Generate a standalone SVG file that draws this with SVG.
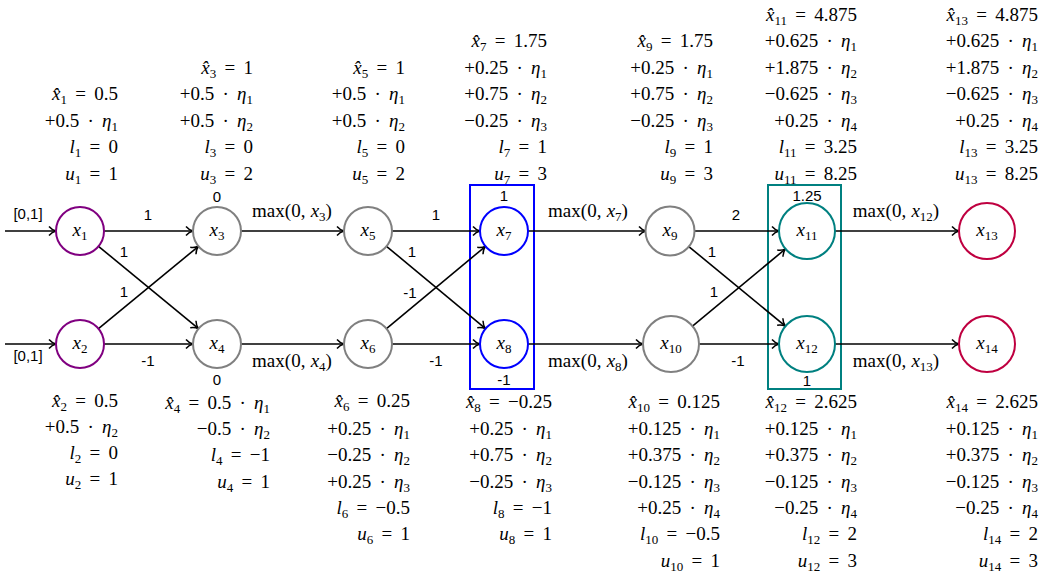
<svg xmlns="http://www.w3.org/2000/svg" width="1043" height="578" viewBox="0 0 1043 578">
<style>
.m{font-family:"Liberation Serif","DejaVu Serif",serif;font-size:19px;fill:#000;word-spacing:3.5px}
.mx{word-spacing:0.5px}
.i{font-style:italic}
.s{font-size:13px}
.e{text-anchor:end}
.c{text-anchor:middle}
.l{font-family:"Liberation Sans",Arial,sans-serif;font-size:15px;fill:#000;text-anchor:middle}
.n{fill:#fff;stroke-width:2}
.g{stroke:#808080}
.v{stroke:#800080}
.b{stroke:#0000ff}
.t{stroke:#008080}
.r{stroke:#bf0040}
.ed{stroke:#000;stroke-width:1.6;fill:none;marker-end:url(#ar)}
</style>
<defs>
<marker id="ar" markerUnits="userSpaceOnUse" viewBox="0 0 12 12" refX="10" refY="6" markerWidth="12" markerHeight="12" orient="auto">
<path d="M3,1.5 Q6,5 10,6 Q6,7 3,10.5" fill="none" stroke="#000" stroke-width="1.5"/>
</marker>
</defs>
<rect x="470" y="185" width="64" height="204" fill="none" stroke="#0000ff" stroke-width="2"/>
<rect x="768" y="185" width="73" height="204" fill="none" stroke="#008080" stroke-width="2"/>
<g id="connectors">
<line class="ed" x1="5" y1="231" x2="56" y2="231"/>
<line class="ed" x1="5" y1="344" x2="56" y2="344"/>
<line class="ed" x1="104" y1="231" x2="193" y2="231"/>
<line class="ed" x1="104" y1="344" x2="193" y2="344"/>
<line class="ed" x1="98.5" y1="246.3" x2="198.5" y2="328.7"/>
<line class="ed" x1="98.5" y1="328.7" x2="198.5" y2="246.3"/>
<line class="ed" x1="241" y1="231" x2="344" y2="231"/>
<line class="ed" x1="241" y1="344" x2="344" y2="344"/>
<line class="ed" x1="392" y1="231" x2="480" y2="231"/>
<line class="ed" x1="392" y1="344" x2="480" y2="344"/>
<line class="ed" x1="386.5" y1="246.3" x2="485.5" y2="328.7"/>
<line class="ed" x1="386.5" y1="328.7" x2="485.5" y2="246.3"/>
<line class="ed" x1="528" y1="231" x2="646" y2="231"/>
<line class="ed" x1="528" y1="344" x2="643" y2="344"/>
<line class="ed" x1="694.5" y1="231" x2="779" y2="231"/>
<line class="ed" x1="699" y1="344" x2="779" y2="344"/>
<line class="ed" x1="688.5" y1="246.3" x2="785.4" y2="326.2"/>
<line class="ed" x1="692.5" y1="326.1" x2="785.5" y2="248.9"/>
<line class="ed" x1="835" y1="231" x2="959" y2="231"/>
<line class="ed" x1="835" y1="344" x2="959" y2="344"/>
<text class="l" x="28" y="219">[0,1]</text>
<text class="l" x="28" y="361">[0,1]</text>
<text class="l" x="148" y="220">1</text>
<text class="l" x="124" y="257">1</text>
<text class="l" x="124" y="297">1</text>
<text class="l" x="148" y="366">-1</text>
<text class="m mx c" x="292" y="217">max(0, <tspan class="i">x</tspan><tspan class="s" dy="4">3</tspan><tspan dy="-4">)</tspan></text>
<text class="m mx c" x="292" y="367">max(0, <tspan class="i">x</tspan><tspan class="s" dy="4">4</tspan><tspan dy="-4">)</tspan></text>
<text class="l" x="436" y="220">1</text>
<text class="l" x="412" y="257">1</text>
<text class="l" x="410" y="298">-1</text>
<text class="l" x="436" y="366">-1</text>
<text class="m mx c" x="588" y="217">max(0, <tspan class="i">x</tspan><tspan class="s" dy="4">7</tspan><tspan dy="-4">)</tspan></text>
<text class="m mx c" x="588" y="367">max(0, <tspan class="i">x</tspan><tspan class="s" dy="4">8</tspan><tspan dy="-4">)</tspan></text>
<text class="l" x="736" y="220">2</text>
<text class="l" x="712" y="257">1</text>
<text class="l" x="714" y="297">1</text>
<text class="l" x="738" y="366">-1</text>
<text class="m mx c" x="896" y="217">max(0, <tspan class="i">x</tspan><tspan class="s" dy="4">12</tspan><tspan dy="-4">)</tspan></text>
<text class="m mx c" x="896" y="367">max(0, <tspan class="i">x</tspan><tspan class="s" dy="4">13</tspan><tspan dy="-4">)</tspan></text>
</g>
<g id="n1"><circle class="n v" cx="80" cy="231" r="24"/><text class="m c" x="80" y="236"><tspan class="i">x</tspan><tspan class="s" dy="4">1</tspan></text></g>
<g id="n2"><circle class="n v" cx="80" cy="344" r="24"/><text class="m c" x="80" y="349"><tspan class="i">x</tspan><tspan class="s" dy="4">2</tspan></text></g>
<g id="n3"><circle class="n g" cx="217" cy="231" r="24"/><text class="m c" x="217" y="236"><tspan class="i">x</tspan><tspan class="s" dy="4">3</tspan></text><text class="l" x="217" y="202">0</text></g>
<g id="n4"><circle class="n g" cx="217" cy="344" r="24"/><text class="m c" x="217" y="349"><tspan class="i">x</tspan><tspan class="s" dy="4">4</tspan></text><text class="l" x="217" y="385">0</text></g>
<g id="n5"><circle class="n g" cx="368" cy="231" r="24"/><text class="m c" x="368" y="236"><tspan class="i">x</tspan><tspan class="s" dy="4">5</tspan></text></g>
<g id="n6"><circle class="n g" cx="368" cy="344" r="24"/><text class="m c" x="368" y="349"><tspan class="i">x</tspan><tspan class="s" dy="4">6</tspan></text></g>
<g id="n7"><circle class="n b" cx="504" cy="231" r="24"/><text class="m c" x="504" y="236"><tspan class="i">x</tspan><tspan class="s" dy="4">7</tspan></text><text class="l" x="504" y="201">1</text></g>
<g id="n8"><circle class="n b" cx="504" cy="344" r="24"/><text class="m c" x="504" y="349"><tspan class="i">x</tspan><tspan class="s" dy="4">8</tspan></text><text class="l" x="504" y="385">-1</text></g>
<g id="n9"><circle class="n g" cx="670" cy="231" r="24.5"/><text class="m c" x="670" y="236"><tspan class="i">x</tspan><tspan class="s" dy="4">9</tspan></text></g>
<g id="n10"><circle class="n g" cx="671" cy="344" r="28"/><text class="m c" x="671" y="349"><tspan class="i">x</tspan><tspan class="s" dy="4">10</tspan></text></g>
<g id="n11"><circle class="n t" cx="807" cy="231" r="28"/><text class="m c" x="807" y="236"><tspan class="i">x</tspan><tspan class="s" dy="4">11</tspan></text><text class="l" x="807" y="201">1.25</text></g>
<g id="n12"><circle class="n t" cx="807" cy="344" r="28"/><text class="m c" x="807" y="349"><tspan class="i">x</tspan><tspan class="s" dy="4">12</tspan></text><text class="l" x="807" y="386">1</text></g>
<g id="n13"><circle class="n r" cx="987" cy="231" r="28"/><text class="m c" x="987" y="236"><tspan class="i">x</tspan><tspan class="s" dy="4">13</tspan></text></g>
<g id="n14"><circle class="n r" cx="987" cy="344" r="28"/><text class="m c" x="987" y="349"><tspan class="i">x</tspan><tspan class="s" dy="4">14</tspan></text></g>
<g id="top-annotations">
<text class="m e" x="118" y="100"><tspan class="i">x̂</tspan><tspan class="s" dy="4">1</tspan><tspan dy="-4"> = 0.5</tspan></text>
<text class="m e" x="118" y="126.5">+0.5 · <tspan class="i">η</tspan><tspan class="s" dy="4">1</tspan></text>
<text class="m e" x="118" y="153"><tspan class="i">l</tspan><tspan class="s" dy="4">1</tspan><tspan dy="-4"> = 0</tspan></text>
<text class="m e" x="118" y="179.5"><tspan class="i">u</tspan><tspan class="s" dy="4">1</tspan><tspan dy="-4"> = 1</tspan></text>

<text class="m e" x="253" y="73.5"><tspan class="i">x̂</tspan><tspan class="s" dy="4">3</tspan><tspan dy="-4"> = 1</tspan></text>
<text class="m e" x="253" y="100">+0.5 · <tspan class="i">η</tspan><tspan class="s" dy="4">1</tspan></text>
<text class="m e" x="253" y="126.5">+0.5 · <tspan class="i">η</tspan><tspan class="s" dy="4">2</tspan></text>
<text class="m e" x="253" y="153"><tspan class="i">l</tspan><tspan class="s" dy="4">3</tspan><tspan dy="-4"> = 0</tspan></text>
<text class="m e" x="253" y="179.5"><tspan class="i">u</tspan><tspan class="s" dy="4">3</tspan><tspan dy="-4"> = 2</tspan></text>

<text class="m e" x="405" y="73.5"><tspan class="i">x̂</tspan><tspan class="s" dy="4">5</tspan><tspan dy="-4"> = 1</tspan></text>
<text class="m e" x="405" y="100">+0.5 · <tspan class="i">η</tspan><tspan class="s" dy="4">1</tspan></text>
<text class="m e" x="405" y="126.5">+0.5 · <tspan class="i">η</tspan><tspan class="s" dy="4">2</tspan></text>
<text class="m e" x="405" y="153"><tspan class="i">l</tspan><tspan class="s" dy="4">5</tspan><tspan dy="-4"> = 0</tspan></text>
<text class="m e" x="405" y="179.5"><tspan class="i">u</tspan><tspan class="s" dy="4">5</tspan><tspan dy="-4"> = 2</tspan></text>

<text class="m e" x="547" y="47"><tspan class="i">x̂</tspan><tspan class="s" dy="4">7</tspan><tspan dy="-4"> = 1.75</tspan></text>
<text class="m e" x="547" y="73.5">+0.25 · <tspan class="i">η</tspan><tspan class="s" dy="4">1</tspan></text>
<text class="m e" x="547" y="100">+0.75 · <tspan class="i">η</tspan><tspan class="s" dy="4">2</tspan></text>
<text class="m e" x="547" y="126.5">−0.25 · <tspan class="i">η</tspan><tspan class="s" dy="4">3</tspan></text>
<text class="m e" x="547" y="153"><tspan class="i">l</tspan><tspan class="s" dy="4">7</tspan><tspan dy="-4"> = 1</tspan></text>
<text class="m e" x="547" y="179.5"><tspan class="i">u</tspan><tspan class="s" dy="4">7</tspan><tspan dy="-4"> = 3</tspan></text>

<text class="m e" x="713" y="47"><tspan class="i">x̂</tspan><tspan class="s" dy="4">9</tspan><tspan dy="-4"> = 1.75</tspan></text>
<text class="m e" x="713" y="73.5">+0.25 · <tspan class="i">η</tspan><tspan class="s" dy="4">1</tspan></text>
<text class="m e" x="713" y="100">+0.75 · <tspan class="i">η</tspan><tspan class="s" dy="4">2</tspan></text>
<text class="m e" x="713" y="126.5">−0.25 · <tspan class="i">η</tspan><tspan class="s" dy="4">3</tspan></text>
<text class="m e" x="713" y="153"><tspan class="i">l</tspan><tspan class="s" dy="4">9</tspan><tspan dy="-4"> = 1</tspan></text>
<text class="m e" x="713" y="179.5"><tspan class="i">u</tspan><tspan class="s" dy="4">9</tspan><tspan dy="-4"> = 3</tspan></text>

<text class="m e" x="857" y="20.5"><tspan class="i">x̂</tspan><tspan class="s" dy="4">11</tspan><tspan dy="-4"> = 4.875</tspan></text>
<text class="m e" x="857" y="47">+0.625 · <tspan class="i">η</tspan><tspan class="s" dy="4">1</tspan></text>
<text class="m e" x="857" y="73.5">+1.875 · <tspan class="i">η</tspan><tspan class="s" dy="4">2</tspan></text>
<text class="m e" x="857" y="100">−0.625 · <tspan class="i">η</tspan><tspan class="s" dy="4">3</tspan></text>
<text class="m e" x="857" y="126.5">+0.25 · <tspan class="i">η</tspan><tspan class="s" dy="4">4</tspan></text>
<text class="m e" x="857" y="153"><tspan class="i">l</tspan><tspan class="s" dy="4">11</tspan><tspan dy="-4"> = 3.25</tspan></text>
<text class="m e" x="857" y="179.5"><tspan class="i">u</tspan><tspan class="s" dy="4">11</tspan><tspan dy="-4"> = 8.25</tspan></text>

<text class="m e" x="1038" y="20.5"><tspan class="i">x̂</tspan><tspan class="s" dy="4">13</tspan><tspan dy="-4"> = 4.875</tspan></text>
<text class="m e" x="1038" y="47">+0.625 · <tspan class="i">η</tspan><tspan class="s" dy="4">1</tspan></text>
<text class="m e" x="1038" y="73.5">+1.875 · <tspan class="i">η</tspan><tspan class="s" dy="4">2</tspan></text>
<text class="m e" x="1038" y="100">−0.625 · <tspan class="i">η</tspan><tspan class="s" dy="4">3</tspan></text>
<text class="m e" x="1038" y="126.5">+0.25 · <tspan class="i">η</tspan><tspan class="s" dy="4">4</tspan></text>
<text class="m e" x="1038" y="153"><tspan class="i">l</tspan><tspan class="s" dy="4">13</tspan><tspan dy="-4"> = 3.25</tspan></text>
<text class="m e" x="1038" y="179.5"><tspan class="i">u</tspan><tspan class="s" dy="4">13</tspan><tspan dy="-4"> = 8.25</tspan></text>
</g>
<g id="bottom-annotations">
<text class="m e" x="118" y="407"><tspan class="i">x̂</tspan><tspan class="s" dy="4">2</tspan><tspan dy="-4"> = 0.5</tspan></text>
<text class="m e" x="118" y="433">+0.5 · <tspan class="i">η</tspan><tspan class="s" dy="4">2</tspan></text>
<text class="m e" x="118" y="459"><tspan class="i">l</tspan><tspan class="s" dy="4">2</tspan><tspan dy="-4"> = 0</tspan></text>
<text class="m e" x="118" y="485"><tspan class="i">u</tspan><tspan class="s" dy="4">2</tspan><tspan dy="-4"> = 1</tspan></text>

<text class="m e" x="270" y="409"><tspan class="i">x̂</tspan><tspan class="s" dy="4">4</tspan><tspan dy="-4"> = 0.5 · </tspan><tspan class="i">η</tspan><tspan class="s" dy="4">1</tspan></text>
<text class="m e" x="270" y="435">−0.5 · <tspan class="i">η</tspan><tspan class="s" dy="4">2</tspan></text>
<text class="m e" x="270" y="461"><tspan class="i">l</tspan><tspan class="s" dy="4">4</tspan><tspan dy="-4"> = −1</tspan></text>
<text class="m e" x="270" y="488"><tspan class="i">u</tspan><tspan class="s" dy="4">4</tspan><tspan dy="-4"> = 1</tspan></text>

<text class="m e" x="410" y="407"><tspan class="i">x̂</tspan><tspan class="s" dy="4">6</tspan><tspan dy="-4"> = 0.25</tspan></text>
<text class="m e" x="410" y="435">+0.25 · <tspan class="i">η</tspan><tspan class="s" dy="4">1</tspan></text>
<text class="m e" x="410" y="461">−0.25 · <tspan class="i">η</tspan><tspan class="s" dy="4">2</tspan></text>
<text class="m e" x="410" y="488">+0.25 · <tspan class="i">η</tspan><tspan class="s" dy="4">3</tspan></text>
<text class="m e" x="410" y="514"><tspan class="i">l</tspan><tspan class="s" dy="4">6</tspan><tspan dy="-4"> = −0.5</tspan></text>
<text class="m e" x="410" y="540"><tspan class="i">u</tspan><tspan class="s" dy="4">6</tspan><tspan dy="-4"> = 1</tspan></text>

<text class="m e" x="552" y="408"><tspan class="i">x̂</tspan><tspan class="s" dy="4">8</tspan><tspan dy="-4"> = −0.25</tspan></text>
<text class="m e" x="552" y="435">+0.25 · <tspan class="i">η</tspan><tspan class="s" dy="4">1</tspan></text>
<text class="m e" x="552" y="461">+0.75 · <tspan class="i">η</tspan><tspan class="s" dy="4">2</tspan></text>
<text class="m e" x="552" y="488">−0.25 · <tspan class="i">η</tspan><tspan class="s" dy="4">3</tspan></text>
<text class="m e" x="552" y="514"><tspan class="i">l</tspan><tspan class="s" dy="4">8</tspan><tspan dy="-4"> = −1</tspan></text>
<text class="m e" x="552" y="540"><tspan class="i">u</tspan><tspan class="s" dy="4">8</tspan><tspan dy="-4"> = 1</tspan></text>

<text class="m e" x="720" y="408"><tspan class="i">x̂</tspan><tspan class="s" dy="4">10</tspan><tspan dy="-4"> = 0.125</tspan></text>
<text class="m e" x="720" y="435">+0.125 · <tspan class="i">η</tspan><tspan class="s" dy="4">1</tspan></text>
<text class="m e" x="720" y="461">+0.375 · <tspan class="i">η</tspan><tspan class="s" dy="4">2</tspan></text>
<text class="m e" x="720" y="488">−0.125 · <tspan class="i">η</tspan><tspan class="s" dy="4">3</tspan></text>
<text class="m e" x="720" y="514">+0.25 · <tspan class="i">η</tspan><tspan class="s" dy="4">4</tspan></text>
<text class="m e" x="720" y="540"><tspan class="i">l</tspan><tspan class="s" dy="4">10</tspan><tspan dy="-4"> = −0.5</tspan></text>
<text class="m e" x="720" y="567"><tspan class="i">u</tspan><tspan class="s" dy="4">10</tspan><tspan dy="-4"> = 1</tspan></text>

<text class="m e" x="857" y="408"><tspan class="i">x̂</tspan><tspan class="s" dy="4">12</tspan><tspan dy="-4"> = 2.625</tspan></text>
<text class="m e" x="857" y="435">+0.125 · <tspan class="i">η</tspan><tspan class="s" dy="4">1</tspan></text>
<text class="m e" x="857" y="461">+0.375 · <tspan class="i">η</tspan><tspan class="s" dy="4">2</tspan></text>
<text class="m e" x="857" y="488">−0.125 · <tspan class="i">η</tspan><tspan class="s" dy="4">3</tspan></text>
<text class="m e" x="857" y="514">−0.25 · <tspan class="i">η</tspan><tspan class="s" dy="4">4</tspan></text>
<text class="m e" x="857" y="540"><tspan class="i">l</tspan><tspan class="s" dy="4">12</tspan><tspan dy="-4"> = 2</tspan></text>
<text class="m e" x="857" y="567"><tspan class="i">u</tspan><tspan class="s" dy="4">12</tspan><tspan dy="-4"> = 3</tspan></text>

<text class="m e" x="1038" y="408"><tspan class="i">x̂</tspan><tspan class="s" dy="4">14</tspan><tspan dy="-4"> = 2.625</tspan></text>
<text class="m e" x="1038" y="435">+0.125 · <tspan class="i">η</tspan><tspan class="s" dy="4">1</tspan></text>
<text class="m e" x="1038" y="461">+0.375 · <tspan class="i">η</tspan><tspan class="s" dy="4">2</tspan></text>
<text class="m e" x="1038" y="488">−0.125 · <tspan class="i">η</tspan><tspan class="s" dy="4">3</tspan></text>
<text class="m e" x="1038" y="514">−0.25 · <tspan class="i">η</tspan><tspan class="s" dy="4">4</tspan></text>
<text class="m e" x="1038" y="540"><tspan class="i">l</tspan><tspan class="s" dy="4">14</tspan><tspan dy="-4"> = 2</tspan></text>
<text class="m e" x="1038" y="567"><tspan class="i">u</tspan><tspan class="s" dy="4">14</tspan><tspan dy="-4"> = 3</tspan></text>
</g>
</svg>
